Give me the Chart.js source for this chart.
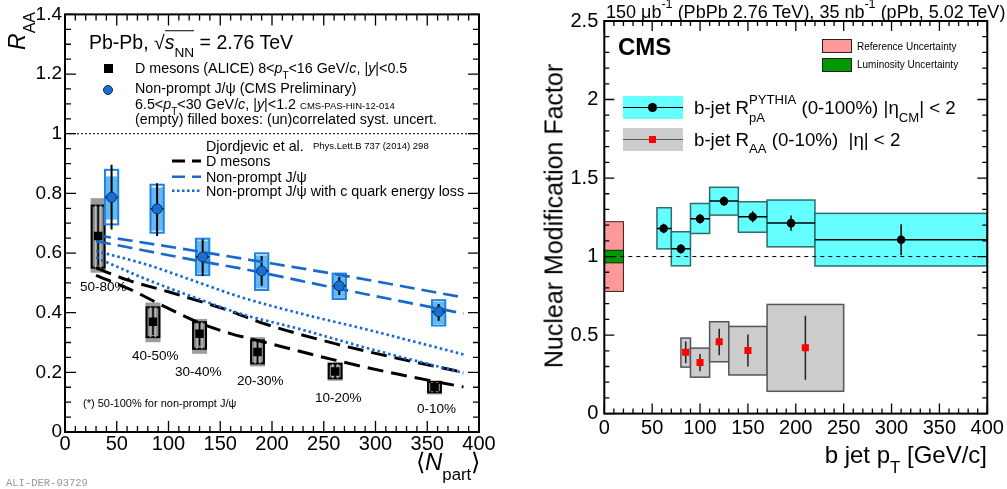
<!DOCTYPE html>
<html>
<head>
<meta charset="utf-8">
<title>D mesons / non-prompt J/psi R_AA and b-jet nuclear modification factor</title>
<script src="https://cdn.jsdelivr.net/npm/chart.js@4.4.1/dist/chart.umd.min.js"></script>
<style>
  body { margin: 0; background: #fff; }
  #page { position: relative; width: 1007px; height: 489px; overflow: hidden;
          font-family: "Liberation Sans", Arial, sans-serif; color: #000; }
  canvas { position: absolute; top: 0; }
  #leftChart { left: 0; }
  #rightChart { left: 500px; }
  .t { position: absolute; white-space: nowrap; line-height: 1; transform: translateY(-50%); }
  .sb { font-size: 70%; position: relative; top: .6em; }
  .sp { font-size: 70%; position: relative; top: -.8em; }
  .sw { position: absolute; box-sizing: border-box; }
</style>
</head>
<body>
<div id="page">
  <canvas id="leftChart" width="500" height="489"></canvas>
  <canvas id="rightChart" width="507" height="489"></canvas>

  <!-- left panel texts -->
  <div class="t" style="left:89px;top:43px;font-size:19.5px">Pb-Pb, √<span style="border-top:1px solid #000"><i>s</i><span class="sb">NN</span></span> = 2.76 TeV</div>
  <div class="sw" style="left:104px;top:64px;width:8.5px;height:8.5px;background:#000"></div>
  <div class="t" style="left:135px;top:68px;font-size:14.3px">D mesons (ALICE) 8&lt;<i>p</i><span class="sb">T</span>&lt;16 GeV/<i>c</i>, |<i>y</i>|&lt;0.5</div>
  <div class="sw" style="left:103px;top:85px;width:10px;height:10px;border-radius:50%;background:#1a6fd0;border:1px solid #08306b"></div>
  <div class="t" style="left:135px;top:88px;font-size:14.3px">Non-prompt J/ψ (CMS Preliminary)</div>
  <div class="t" style="left:135px;top:103.5px;font-size:14.3px">6.5&lt;<i>p</i><span class="sb">T</span>&lt;30 GeV/<i>c</i>, |<i>y</i>|&lt;1.2 <span style="font-size:9.5px">CMS-PAS-HIN-12-014</span></div>
  <div class="t" style="left:135px;top:118.5px;font-size:14.3px">(empty) filled boxes: (un)correlated syst. uncert.</div>
  <div class="t" style="left:206px;top:146px;font-size:14.3px">Djordjevic et al.</div>
  <div class="t" style="left:313px;top:146px;font-size:9.5px">Phys.Lett.B 737 (2014) 298</div>
  <svg class="sw" style="left:170px;top:150px" width="34" height="50">
    <line x1="2" y1="11" x2="31" y2="11" stroke="#000" stroke-width="3" stroke-dasharray="13 7"/>
    <line x1="2" y1="26.7" x2="31" y2="26.7" stroke="#1769cf" stroke-width="2.6" stroke-dasharray="13 7"/>
    <line x1="2" y1="40.7" x2="31" y2="40.7" stroke="#1769cf" stroke-width="2.6" stroke-dasharray="2.5 2.5"/>
  </svg>
  <div class="t" style="left:206px;top:161px;font-size:14.3px">D mesons</div>
  <div class="t" style="left:206px;top:176.5px;font-size:14.3px">Non-prompt J/ψ</div>
  <div class="t" style="left:206px;top:191px;font-size:14.3px">Non-prompt J/ψ with c quark energy loss</div>
  <div class="t" style="left:80px;top:287px;font-size:13.5px">50-80%<span class="sp">*</span></div>
  <div class="t" style="left:132px;top:356px;font-size:13.5px">40-50%</div>
  <div class="t" style="left:175px;top:372px;font-size:13.5px">30-40%</div>
  <div class="t" style="left:237px;top:381px;font-size:13.5px">20-30%</div>
  <div class="t" style="left:315px;top:397.5px;font-size:13.5px">10-20%</div>
  <div class="t" style="left:417px;top:409px;font-size:13.5px">0-10%</div>
  <div class="t" style="left:83px;top:403px;font-size:11px">(*) 50-100% for non-prompt J/ψ</div>
  <div style="position:absolute;left:6px;top:50px;transform-origin:0 0;transform:rotate(-90deg);white-space:nowrap;line-height:1;font-size:23px"><i>R</i><span class="sb">AA</span></div>
  <div class="t" style="left:416px;top:462px;font-size:24px">⟨<i>N</i><span class="sb">part</span>⟩</div>
  <div class="t" style="left:6px;top:483px;font-size:10.5px;font-family:'Liberation Mono',monospace;color:#999">ALI-DER-93729</div>

  <!-- right panel texts -->
  <div class="t" style="left:606px;top:12px;font-size:18px">150 μb<span class="sp">-1</span> (PbPb 2.76 TeV), 35 nb<span class="sp">-1</span> (pPb, 5.02 TeV)</div>
  <div class="t" style="left:618px;top:47px;font-size:24px;font-weight:bold">CMS</div>
  <div class="sw" style="left:822px;top:39px;width:30px;height:13.5px;background:#ff9999;border:1px solid #222"></div>
  <div class="t" style="left:857px;top:46.5px;font-size:10px">Reference Uncertainty</div>
  <div class="sw" style="left:822px;top:58.3px;width:30px;height:13.5px;background:#009900;border:1px solid #222"></div>
  <div class="t" style="left:857px;top:65px;font-size:10px">Luminosity Uncertainty</div>
  <div class="sw" style="left:623px;top:96px;width:60px;height:23px;background:#66ffff"></div>
  <div class="sw" style="left:623px;top:106.5px;width:60px;height:1.5px;background:#000"></div>
  <div class="sw" style="left:648px;top:103px;width:8.6px;height:8.6px;border-radius:50%;background:#000"></div>
  <div class="t" style="left:694px;top:108px;font-size:18.7px">b-jet R<span class="sb" style="display:inline-block;width:0">pA</span><span class="sp">PYTHIA</span> (0-100%) |η<span class="sb">CM</span>| &lt; 2</div>
  <div class="sw" style="left:623px;top:128px;width:60px;height:23px;background:#cccccc"></div>
  <div class="sw" style="left:623px;top:138.5px;width:60px;height:1.5px;background:#555"></div>
  <div class="sw" style="left:648.5px;top:135.8px;width:7px;height:7px;background:#ff0000"></div>
  <div class="t" style="left:694px;top:139.5px;font-size:18.7px">b-jet R<span class="sb">AA</span> (0-10%)&nbsp; |η| &lt; 2</div>
  <div style="position:absolute;left:554px;top:216px;transform:translate(-50%,-50%) rotate(-90deg);white-space:nowrap;line-height:1;font-size:25px">Nuclear Modification Factor</div>
  <div class="t" style="right:20px;top:455px;font-size:24px">b jet p<span class="sb">T</span> [GeV/c]</div>
</div>

<script>
// ---------- left panel: R_AA vs <Npart> ----------
// D mesons (ALICE)
var dNpart = [32, 85, 130, 186, 261, 357];
var dRaa   = [0.657, 0.370, 0.329, 0.268, 0.203, 0.151];
var dStat  = [0.100, 0.045, 0.040, 0.035, 0.025, 0.020];
var dUncLo = [0.551, 0.318, 0.279, 0.230, 0.180, 0.133];
var dUncHi = [0.759, 0.418, 0.368, 0.307, 0.228, 0.168];
var dCorLo = [0.534, 0.301, 0.262, 0.220, 0.172, 0.126];
var dCorHi = [0.784, 0.434, 0.379, 0.318, 0.235, 0.172];

// non-prompt J/psi (CMS)
var jNpart   = [45, 89, 133, 190, 265, 361];
var jRaa     = [0.787, 0.748, 0.587, 0.540, 0.490, 0.403];
var jStatLo  = [0.679, 0.657, 0.523, 0.490, 0.459, 0.373];
var jStatHi  = [0.896, 0.834, 0.646, 0.590, 0.520, 0.429];
var jOutLo   = [0.696, 0.668, 0.526, 0.476, 0.446, 0.357];
var jOutHi   = [0.879, 0.829, 0.648, 0.599, 0.531, 0.442];
var jFillLo  = [0.712, 0.675, 0.531, 0.481, 0.450, 0.362];
var jFillHi  = [0.857, 0.820, 0.642, 0.592, 0.526, 0.437];

// Djordjevic et al. model bands
var dModHiX = [30, 60, 100, 160, 190, 260, 320, 385];
var dModHiY = [0.550, 0.510, 0.470, 0.405, 0.366, 0.297, 0.248, 0.200];
var dModLoX = [30, 63, 85, 127, 160, 186, 262, 320, 385];
var dModLoY = [0.525, 0.478, 0.440, 0.370, 0.330, 0.307, 0.240, 0.195, 0.151];
var bModHiX = [30, 130, 170, 265, 385];
var bModHiY = [0.660, 0.605, 0.582, 0.527, 0.451];
var bModLoX = [30, 130, 170, 265, 385];
var bModLoY = [0.640, 0.573, 0.548, 0.480, 0.397];
var cModHiX = [30, 80, 130, 170, 230, 290, 385];
var cModHiY = [0.607, 0.560, 0.500, 0.452, 0.395, 0.345, 0.260];
var cModLoX = [30, 80, 130, 170, 227, 290, 385];
var cModLoY = [0.585, 0.510, 0.445, 0.396, 0.345, 0.283, 0.198];

// ---------- right panel: b-jet nuclear modification factor ----------
var pALo    = [55, 70, 90, 110, 140, 170, 220];
var pAHi    = [70, 90, 110, 140, 170, 220, 400];
var pAx     = [62, 80, 100, 125, 155, 195, 310];
var pAval   = [1.179, 1.049, 1.240, 1.353, 1.253, 1.213, 1.107];
var pAstat  = [0.030, 0.030, 0.030, 0.030, 0.035, 0.048, 0.098];
var pAsysLo = [1.049, 0.941, 1.147, 1.264, 1.155, 1.062, 0.940];
var pAsysHi = [1.311, 1.158, 1.338, 1.441, 1.349, 1.360, 1.275];

var aaLo     = [80, 90, 110, 130, 170];
var aaHi     = [90, 110, 130, 170, 250];
var aaX      = [85, 100, 120, 150, 210];
var aaVal    = [0.391, 0.325, 0.457, 0.402, 0.419];
var aaStatLo = [0.321, 0.270, 0.372, 0.300, 0.215];
var aaStatHi = [0.459, 0.380, 0.540, 0.504, 0.623];
var aaSysLo  = [0.296, 0.232, 0.330, 0.246, 0.142];
var aaSysHi  = [0.481, 0.417, 0.585, 0.555, 0.695];

var refX = [0, 20];
var refUnc = [0.778, 1.222];
var lumiUnc = [0.960, 1.040];

Chart.defaults.font.family = '"Liberation Sans", Arial, sans-serif';
Chart.defaults.color = '#000';

function pts(xs, ys) {
  return xs.map(function(x, i) { return { x: x, y: ys[i] }; });
}

function curve(xs, ys, color, dash, width) {
  return {
    data: pts(xs, ys),
    showLine: true,
    borderColor: color,
    borderDash: dash,
    borderWidth: width,
    pointRadius: 0,
    cubicInterpolationMode: 'monotone',
    fill: false
  };
}

// rectangle in data coordinates, converted through the chart scales
function box(chart, x0, x1, y0, y1, fill, stroke, lw) {
  var ctx = chart.ctx, sx = chart.scales.x, sy = chart.scales.y;
  var l = sx.getPixelForValue(x0), r = sx.getPixelForValue(x1);
  var t = sy.getPixelForValue(y1), b = sy.getPixelForValue(y0);
  if (fill) {
    ctx.fillStyle = fill;
    ctx.fillRect(l, t, r - l, b - t);
  }
  if (stroke) {
    ctx.strokeStyle = stroke;
    ctx.lineWidth = lw;
    ctx.strokeRect(l, t, r - l, b - t);
  }
}

function seg(chart, x0, y0, x1, y1, color, lw, dash) {
  var ctx = chart.ctx, sx = chart.scales.x, sy = chart.scales.y;
  ctx.strokeStyle = color;
  ctx.lineWidth = lw;
  ctx.setLineDash(dash || []);
  ctx.beginPath();
  ctx.moveTo(sx.getPixelForValue(x0), sy.getPixelForValue(y0));
  ctx.lineTo(sx.getPixelForValue(x1), sy.getPixelForValue(y1));
  ctx.stroke();
  ctx.setLineDash([]);
}

function clipArea(chart) {
  var a = chart.chartArea;
  chart.ctx.beginPath();
  chart.ctx.rect(a.left, a.top, a.right - a.left, a.bottom - a.top);
  chart.ctx.clip();
}

// ROOT style frame: ticks pointing inward on all four sides
function rootFrame(id, xMinor, xEvery, yMinor, yEvery, majLen, minLen) {
  return {
    id: id,
    afterDraw: function(chart) {
      var ctx = chart.ctx, a = chart.chartArea, sx = chart.scales.x, sy = chart.scales.y;
      ctx.save();
      ctx.strokeStyle = '#000';
      ctx.lineWidth = 1.3;
      ctx.beginPath();
      var nx = Math.round((sx.max - sx.min) / xMinor);
      for (var i = 0; i <= nx; i++) {
        var p = sx.getPixelForValue(sx.min + i * xMinor);
        var len = i % xEvery === 0 ? majLen : minLen;
        ctx.moveTo(p, a.bottom); ctx.lineTo(p, a.bottom - len);
        ctx.moveTo(p, a.top); ctx.lineTo(p, a.top + len);
      }
      var ny = Math.round((sy.max - sy.min) / yMinor);
      for (var j = 0; j <= ny; j++) {
        var q = sy.getPixelForValue(sy.min + j * yMinor);
        var ln = j % yEvery === 0 ? majLen : minLen;
        ctx.moveTo(a.left, q); ctx.lineTo(a.left + ln, q);
        ctx.moveTo(a.right, q); ctx.lineTo(a.right - ln, q);
      }
      ctx.stroke();
      ctx.lineWidth = 2;
      ctx.strokeRect(a.left, a.top, a.right - a.left, a.bottom - a.top);
      ctx.restore();
    }
  };
}

var leftMarks = {
  id: 'leftMarks',
  beforeDatasetsDraw: function(chart) {
    var ctx = chart.ctx;
    ctx.save();
    clipArea(chart);
    seg(chart, 0, 1, 400, 1, '#000', 1, [2, 2]);

    // D mesons: filled (correlated) and empty (uncorrelated) boxes
    dNpart.forEach(function(n, i) {
      box(chart, n - 7.3, n + 7.3, dCorLo[i], dCorHi[i], '#9c9c9c', null);
      box(chart, n - 6.2, n + 6.2, dUncLo[i], dUncHi[i], '#8a8a8a', '#000', 2);
      seg(chart, n - 2.4, dUncLo[i], n - 2.4, dUncHi[i], '#b8b8b8', 1.5);
      seg(chart, n + 2.4, dUncLo[i], n + 2.4, dUncHi[i], '#b8b8b8', 1.5);
      seg(chart, n, dRaa[i] - dStat[i], n, dRaa[i] + dStat[i], '#000', 1.5);
    });

    // non-prompt J/psi boxes
    jNpart.forEach(function(n, i) {
      box(chart, n - 6.4, n + 6.4, jOutLo[i], jOutHi[i], '#ffffff', null);
      box(chart, n - 6.0, n + 6.0, jFillLo[i], jFillHi[i], '#64b9f5', null);
      box(chart, n - 6.4, n + 6.4, jOutLo[i], jOutHi[i], null, '#1e82e6', 2);
      seg(chart, n, jStatLo[i], n, jStatHi[i], '#000', 2);
      seg(chart, n - 6.4, jRaa[i], n + 6.4, jRaa[i], '#000', 1.2);
    });
    ctx.restore();
  }
};

var rightMarks = {
  id: 'rightMarks',
  beforeDatasetsDraw: function(chart) {
    var ctx = chart.ctx;
    ctx.save();
    clipArea(chart);
    box(chart, refX[0], refX[1], refUnc[0], refUnc[1], '#ff9999', '#3a2020', 1);
    box(chart, refX[0], refX[1], lumiUnc[0], lumiUnc[1], '#009900', '#102010', 1);

    pALo.forEach(function(lo, i) {
      box(chart, lo, pAHi[i], pAsysLo[i], pAsysHi[i], '#66ffff', '#2e6b6b', 1.5);
    });
    pALo.forEach(function(lo, i) {
      seg(chart, lo, pAval[i], pAHi[i], pAval[i], '#000', 1.5);
      seg(chart, pAx[i], pAval[i] - pAstat[i], pAx[i], pAval[i] + pAstat[i], '#000', 1.5);
    });

    aaLo.forEach(function(lo, i) {
      box(chart, lo, aaHi[i], aaSysLo[i], aaSysHi[i], '#cccccc', '#555555', 1.5);
      seg(chart, aaX[i], aaStatLo[i], aaX[i], aaStatHi[i], '#222', 1.5);
    });

    seg(chart, 0, 1, 400, 1, '#000', 1, [4, 4]);
    ctx.restore();
  }
};

function fmt(v) { return String(Math.round(v * 100) / 100); }

var noGrid = { display: false, drawTicks: false };

new Chart(document.getElementById('leftChart'), {
  type: 'scatter',
  data: {
    datasets: [
      { data: pts(dNpart, dRaa), pointStyle: 'rect', pointRadius: 6, backgroundColor: '#000', borderWidth: 0 },
      { data: pts(jNpart, jRaa), pointStyle: 'circle', pointRadius: 5, backgroundColor: '#1a6fd0', borderColor: '#08306b', borderWidth: 1 },
      curve(bModHiX, bModHiY, '#1769cf', [15, 7], 2.7),
      curve(bModLoX, bModLoY, '#1769cf', [15, 7], 2.7),
      curve(cModHiX, cModHiY, '#1769cf', [2.5, 3], 2.7),
      curve(cModLoX, cModLoY, '#1769cf', [2.5, 3], 2.7),
      curve(dModHiX, dModHiY, '#000', [16, 8], 3),
      curve(dModLoX, dModLoY, '#000', [16, 8], 3)
    ]
  },
  options: {
    responsive: false,
    animation: false,
    events: [],
    layout: { padding: { top: 12, right: 21, left: 0, bottom: 0 } },
    plugins: { legend: { display: false }, tooltip: { enabled: false } },
    scales: {
      x: {
        type: 'linear', min: 0, max: 400,
        afterFit: function(s) { s.height = 57; },
        grid: noGrid, border: { display: false },
        ticks: { stepSize: 50, padding: 0, autoSkip: false, maxRotation: 0, font: { size: 20 }, color: '#000' }
      },
      y: {
        type: 'linear', min: 0, max: 1.4,
        afterFit: function(s) { s.width = 65; },
        grid: noGrid, border: { display: false },
        ticks: { stepSize: 0.2, padding: 3, font: { size: 19 }, color: '#000', callback: fmt }
      }
    }
  },
  plugins: [leftMarks, rootFrame('leftFrame', 10, 5, 0.05, 4, 11, 6)]
});

new Chart(document.getElementById('rightChart'), {
  type: 'scatter',
  data: {
    datasets: [
      { data: pts(pAx, pAval), pointStyle: 'circle', pointRadius: 4.3, backgroundColor: '#000', borderWidth: 0 },
      { data: pts(aaX, aaVal), pointStyle: 'rect', pointRadius: 5, backgroundColor: '#ff0000', borderWidth: 0 }
    ]
  },
  options: {
    responsive: false,
    animation: false,
    events: [],
    layout: { padding: { top: 21, right: 19.7, left: 0, bottom: 0 } },
    plugins: { legend: { display: false }, tooltip: { enabled: false } },
    scales: {
      x: {
        type: 'linear', min: 0, max: 400,
        afterFit: function(s) { s.height = 75.4; },
        grid: noGrid, border: { display: false },
        ticks: { stepSize: 50, padding: 3, autoSkip: false, maxRotation: 0, font: { size: 20 }, color: '#000' }
      },
      y: {
        type: 'linear', min: 0, max: 2.5,
        afterFit: function(s) { s.width = 104.3; },
        grid: noGrid, border: { display: false },
        ticks: { stepSize: 0.5, padding: 6, font: { size: 20 }, color: '#000', callback: fmt }
      }
    }
  },
  plugins: [rightMarks, rootFrame('rightFrame', 10, 5, 0.1, 5, 10, 5)]
});
</script>
</body>
</html>
